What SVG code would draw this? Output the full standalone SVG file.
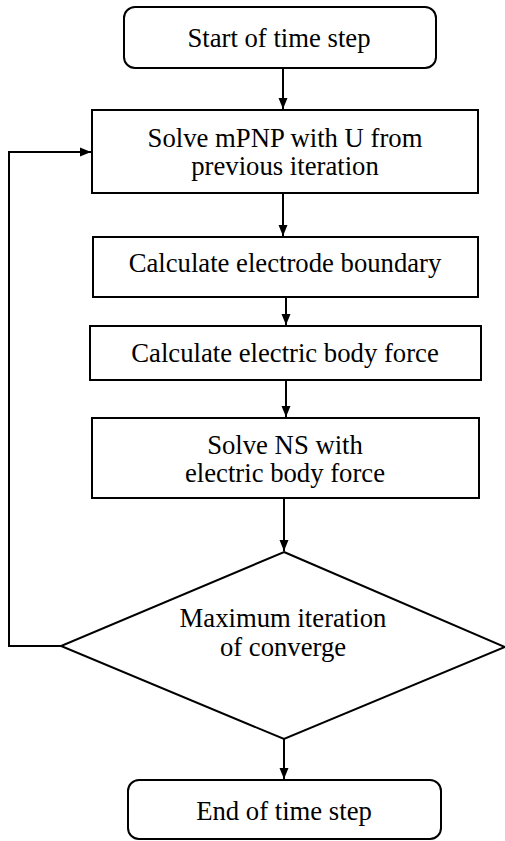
<svg xmlns="http://www.w3.org/2000/svg" width="505" height="841" viewBox="0 0 505 841">
<style>
.box{fill:#fff;stroke:#000;stroke-width:2}
.ln{fill:none;stroke:#000;stroke-width:2}
</style>
<defs>
<marker id="ah" markerWidth="12" markerHeight="10" refX="11" refY="5" orient="auto" markerUnits="userSpaceOnUse">
<path d="M0,0.5 L11,5 L0,9.5 Z" fill="#000"/>
</marker>
</defs>
<rect width="505" height="841" fill="#fff"/>
<g id="connectors">
<line class="ln" x1="283" y1="68" x2="283" y2="109" marker-end="url(#ah)"/>
<line class="ln" x1="283" y1="193" x2="283" y2="236" marker-end="url(#ah)"/>
<line class="ln" x1="286" y1="297" x2="286" y2="325" marker-end="url(#ah)"/>
<line class="ln" x1="286" y1="380" x2="286" y2="417" marker-end="url(#ah)"/>
<line class="ln" x1="284" y1="498" x2="284" y2="551" marker-end="url(#ah)"/>
<line class="ln" x1="284" y1="739" x2="284" y2="779" marker-end="url(#ah)"/>
<polyline class="ln" points="61,646 9,646 9,152 91,152" marker-end="url(#ah)"/>
</g>
<g id="start">
<rect class="box" x="124" y="7" width="312" height="61" rx="11"/>
<text x="279" y="47" font-family="Liberation Serif" font-size="26.7" text-anchor="middle">Start of time step</text>
</g>
<g id="solve-mpnp">
<rect class="box" x="92" y="110" width="386" height="83"/>
<text x="285" y="147" font-family="Liberation Serif" font-size="26.7" text-anchor="middle">Solve mPNP with U from</text>
<text x="285" y="175" font-family="Liberation Serif" font-size="26.7" text-anchor="middle">previous iteration</text>
</g>
<g id="calc-boundary">
<rect class="box" x="93" y="237" width="385" height="60"/>
<text x="285" y="272" font-family="Liberation Serif" font-size="26.7" text-anchor="middle">Calculate electrode boundary</text>
</g>
<g id="calc-force">
<rect class="box" x="90" y="326" width="391" height="54"/>
<text x="285" y="362" font-family="Liberation Serif" font-size="26.7" text-anchor="middle">Calculate electric body force</text>
</g>
<g id="solve-ns">
<rect class="box" x="92" y="418" width="387" height="80"/>
<text x="285" y="454" font-family="Liberation Serif" font-size="26.7" text-anchor="middle">Solve NS with</text>
<text x="285" y="482" font-family="Liberation Serif" font-size="26.7" text-anchor="middle">electric body force</text>
</g>
<g id="decision">
<polygon class="box" points="284,552 505,647 284,739 61,646"/>
<text x="283" y="627" font-family="Liberation Serif" font-size="26.7" text-anchor="middle">Maximum iteration</text>
<text x="283" y="656" font-family="Liberation Serif" font-size="26.7" text-anchor="middle">of converge</text>
</g>
<g id="end">
<rect class="box" x="128" y="780" width="313" height="59" rx="11"/>
<text x="284" y="820" font-family="Liberation Serif" font-size="26.7" text-anchor="middle">End of time step</text>
</g>
</svg>
